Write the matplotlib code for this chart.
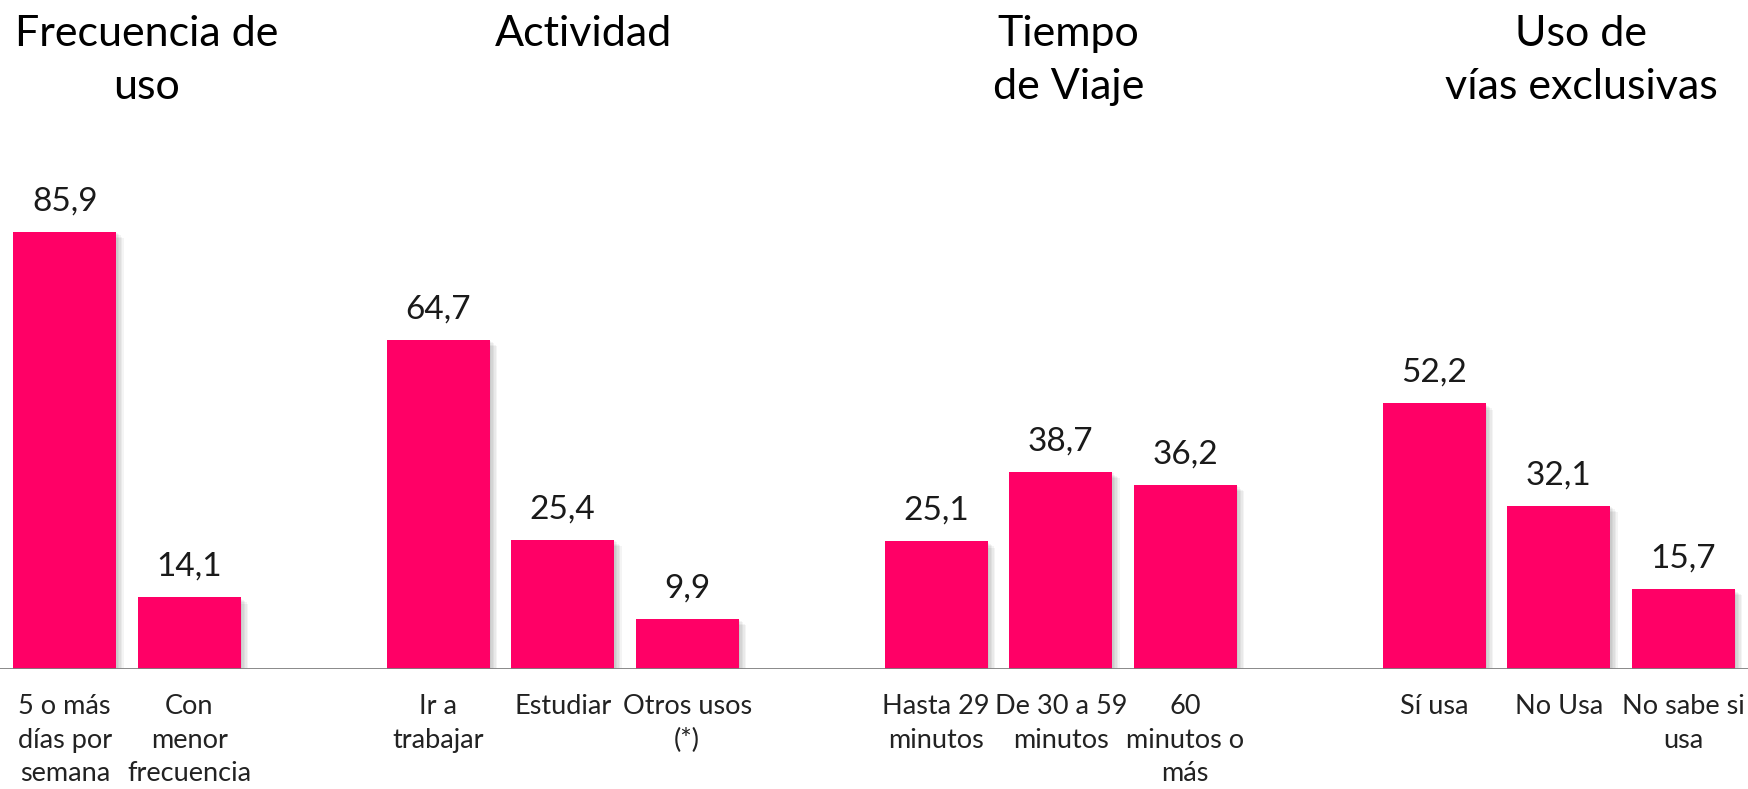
import matplotlib.pyplot as plt
import numpy as np

plt.rcParams['font.family'] = ['Lato', 'DejaVu Sans']

# groups and values (%)
titles = ['Frecuencia de\nuso', 'Actividad', 'Tiempo\nde Viaje', 'Uso de\nvías exclusivas']
labels = [
    ['5 o más\ndías por\nsemana', 'Con\nmenor\nfrecuencia'],
    ['Ir a\ntrabajar', 'Estudiar', 'Otros usos\n(*)'],
    ['Hasta 29\nminutos', 'De 30 a 59\nminutos', '60\nminutos o\nmás'],
    ['Sí usa', 'No Usa', 'No sabe si\nusa'],
]
values = [
    [85.9, 14.1],
    [64.7, 25.4, 9.9],
    [25.1, 38.7, 36.2],
    [52.2, 32.1, 15.7],
]
title_pos = [0.66, 4.17, 8.06, 12.18]

pink = '#FF0066'

fig = plt.figure(figsize=(17.48, 7.89), dpi=100)
ax = fig.add_axes([0, 0.152, 1, 0.848])

xs, hs, tl = [], [], []
pos = 0
for grp_vals, grp_labels in zip(values, labels):
    for v, l in zip(grp_vals, grp_labels):
        xs.append(pos)
        hs.append(v)
        tl.append(l)
        pos += 1
    pos += 1
xs = np.array(xs)
hs = np.array(hs)

w = 0.83
# soft shadow
for k in range(1, 6):
    ax.bar(xs + 0.012 * k, hs, width=w, bottom=-0.25 * k, color='black',
           alpha=0.045, linewidth=0, zorder=1)
ax.bar(xs, hs, width=w, color=pink, linewidth=0, zorder=3)

for x, h in zip(xs, hs):
    ax.text(x, h + 3.0, f'{h:.1f}'.replace('.', ','), ha='center', va='bottom',
            fontsize=24, color='#1a1a1a')

for t, x in zip(titles, title_pos):
    ax.text(x, 128.4, t, ha='center', va='top', fontsize=31,
            color='black', linespacing=1.48)

ax.axhline(0, color='#7f7f7f', lw=2, zorder=4)
ax.set_xlim(-0.52, 13.52)
ax.set_ylim(0, 131.4)
ax.set_xticks(xs)
ax.set_xticklabels(tl, fontsize=19.5, color='#222222', linespacing=1.43)
ax.tick_params(axis='x', length=0, pad=18)
ax.set_yticks([])
for s in ax.spines.values():
    s.set_visible(False)

fig.savefig('out.png', dpi=100)
